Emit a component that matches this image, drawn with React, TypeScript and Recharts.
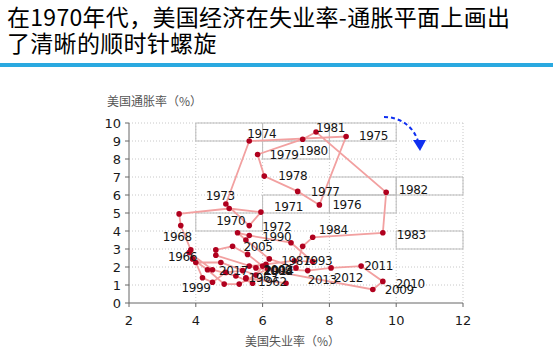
import React from 'react';
import { ScatterChart, Scatter, XAxis, YAxis, CartesianGrid, ReferenceArea } from 'recharts';

// ---- data ----
const years = [
  1960, 1961, 1962, 1963, 1964, 1965, 1966, 1967, 1968, 1969,
  1970, 1971, 1972, 1973, 1974, 1975, 1976, 1977, 1978, 1979,
  1980, 1981, 1982, 1983, 1984, 1985, 1986, 1987, 1988, 1989,
  1990, 1991, 1992, 1993, 1994, 1995, 1996, 1997, 1998, 1999,
  2000, 2001, 2002, 2003, 2004, 2005, 2006, 2007, 2008, 2009,
  2010, 2011, 2012, 2013, 2014, 2015, 2016, 2017, 2018,
];
const unemployment = [
  5.5, 6.7, 5.5, 5.7, 5.2, 4.5, 3.8, 3.85, 3.55, 3.5,
  5.0, 5.95, 5.6, 4.9, 5.6, 8.5, 7.7, 7.05, 6.05, 5.85,
  7.2, 7.6, 9.7, 9.6, 7.5, 7.2, 7.0, 6.2, 5.5, 5.25,
  5.6, 6.85, 7.5, 6.95, 6.1, 5.6, 5.4, 4.9, 4.5, 4.2,
  4.0, 4.75, 5.8, 6.0, 5.55, 5.1, 4.6, 4.6, 5.8, 9.3,
  9.6, 8.95, 8.05, 7.35, 6.15, 5.3, 4.85, 4.35, 3.9,
];
const inflation = [
  1.4, 1.1, 1.35, 1.1, 1.5, 1.85, 2.8, 2.95, 4.3, 4.95,
  5.25, 5.05, 4.3, 5.5, 9.0, 9.25, 5.45, 6.2, 7.05, 8.25,
  9.1, 9.5, 6.15, 3.9, 3.65, 3.15, 1.95, 2.45, 3.5, 3.9,
  3.75, 3.35, 2.3, 2.35, 2.15, 2.05, 1.8, 1.7, 1.15, 1.4,
  2.25, 2.25, 1.55, 2.05, 2.7, 3.15, 2.95, 2.65, 1.95, 0.75,
  1.2, 2.05, 1.95, 1.8, 1.9, 1.05, 1.05, 1.85, 2.45,
];
const labeledYears = [
  1962, 1963, 1966, 1968, 1970, 1971, 1972, 1973, 1974, 1975, 1976, 1977,
  1978, 1979, 1980, 1981, 1982, 1983, 1984, 1987, 1990, 1993, 1994, 1999,
  2003, 2005, 2008, 2009, 2010, 2011, 2012, 2013, 2014, 2017,
];
const xTicks = [2, 4, 6, 8, 10, 12];
const yTicks = [0, 1, 2, 3, 4, 5, 6, 7, 8, 9, 10];
// leftover label frames in the original, in data units: [x1, x2, y1, y2]
const labelFrames = [
  [4, 6, 9, 10], [6, 8, 9, 10], [8, 10, 9, 10], [6, 8, 8, 9],
  [8, 10, 6, 7], [10, 12, 6, 7], [6, 8, 5, 6], [8, 10, 5, 6],
  [4, 6, 4, 5], [10, 12, 3, 4],
];

// ---- styling: label offsets (px) from each point: [start x, center y] ----
const labelOffsets: Record<number, [number, number]> = {
  1962: [12, 3], 1963: [-4, -6], 1966: [-21, 4.5], 1968: [-18, 11],
  1970: [-13, 12], 1971: [13, -5], 1972: [13, 1], 1973: [-20, -8],
  1974: [-2, -7], 1975: [13, -1], 1976: [13, 0], 1977: [13, 0],
  1978: [14, 0], 1979: [12, 0], 1980: [-4, 11], 1981: [0, -4],
  1982: [12.5, -3], 1983: [14, 1.5], 1984: [6, -8], 1987: [12, 2],
  1990: [13, 1], 1993: [9, 0], 1994: [-2, 6], 1999: [-21, 9.5],
  2003: [1, 4], 2005: [11, 0], 2008: [7, 3], 2009: [12, 0],
  2010: [13, 2], 2011: [3, 0], 2012: [3, 9.5], 2013: [0, 9],
  2014: [-3, 2], 2017: [11.5, 1],
};

const points = years.map((year, i) => ({ year, u: unemployment[i], p: inflation[i] }));
const labelPoints = points.filter((d) => labeledYears.includes(d.year));

const Dot = (props: any) => {
  const { cx, cy } = props;
  if (cx == null || cy == null) return null;
  return <circle cx={cx} cy={cy} r={2.8} fill="#b0001e" />;
};

const YearLabel = (props: any) => {
  const { cx, cy, payload } = props;
  if (cx == null || cy == null) return null;
  const off = labelOffsets[payload.year] || [12, 0];
  return (
    <text
      x={cx + off[0]}
      y={cy + off[1]}
      dy="0.36em"
      fontSize={12}
      letterSpacing={-0.4}
      fontFamily="DejaVu Sans"
      fill="#151515"
    >
      {payload.year}
    </text>
  );
};

const cjk = '"Noto Sans CJK SC", "Noto Sans", sans-serif';

export default function App() {
  return (
    <div style={{ position: 'absolute', left: 0, top: 0, width: 553, height: 356, background: '#fff', overflow: 'hidden' }}>
      <div
        style={{
          position: 'absolute', left: 7, top: 3, fontFamily: cjk, fontSize: 23,
          lineHeight: '26px', letterSpacing: '0.3px', color: '#000', whiteSpace: 'nowrap',
        }}
      >
        在1970年代，美国经济在失业率-通胀平面上画出
        <br />
        了清晰的顺时针螺旋
      </div>
      <div style={{ position: 'absolute', left: 0, top: 63, width: 553, height: 4, background: '#2aa9e0' }} />
      <div style={{ position: 'absolute', left: 0, top: 0 }}>
        <ScatterChart width={553} height={356} margin={{ top: 123, right: 90, bottom: 23, left: 0 }}>
          <CartesianGrid
            stroke="#c8c8c8"
            strokeDasharray="1 2"
            verticalValues={[4, 6, 8, 10, 12]}
            horizontalValues={[1, 2, 3, 4, 5, 6, 7, 8, 9, 10]}
          />
          {labelFrames.map((f, i) => (
            <ReferenceArea
              key={i}
              x1={f[0]}
              x2={f[1]}
              y1={f[2]}
              y2={f[3]}
              fill="none"
              fillOpacity={0}
              stroke="#bdbdbd"
              strokeWidth={1}
              ifOverflow="visible"
            />
          ))}
          <XAxis
            type="number"
            dataKey="u"
            domain={[2, 12]}
            ticks={xTicks}
            height={30}
            tickSize={4}
            tickMargin={9}
            stroke="#666"
            tick={{ fill: '#1a1a1a', fontSize: 13, fontFamily: 'DejaVu Sans' }}
            interval={0}
            allowDataOverflow
          />
          <YAxis
            type="number"
            dataKey="p"
            domain={[0, 10]}
            ticks={yTicks}
            width={129}
            tickSize={4}
            tickMargin={4}
            stroke="#666"
            tick={{ fill: '#1a1a1a', fontSize: 13, fontFamily: 'DejaVu Sans' }}
            interval={0}
            allowDataOverflow
          />
          <Scatter
            data={points}
            line={{ stroke: '#f2a0a0', strokeWidth: 1.8 }}
            lineType="joint"
            shape={Dot}
            isAnimationActive={false}
          />
          <Scatter data={labelPoints} shape={YearLabel} isAnimationActive={false} />
        </ScatterChart>
      </div>
      <div style={{ position: 'absolute', left: 107, top: 93, fontFamily: cjk, fontSize: 12, lineHeight: '16px', color: '#555' }}>
        美国通胀率（%）
      </div>
      <div style={{ position: 'absolute', left: 245, top: 333, fontFamily: cjk, fontSize: 12, lineHeight: '16px', color: '#555' }}>
        美国失业率（%）
      </div>
      <svg width={553} height={356} style={{ position: 'absolute', left: 0, top: 0, pointerEvents: 'none' }}>
        <path d="M384,117 C400,117 413,126 418,141" fill="none" stroke="#1030f0" strokeWidth={2} strokeDasharray="4 3" />
        <polygon points="413,140 426,140 420,151" fill="#1030f0" />
      </svg>
    </div>
  );
}
